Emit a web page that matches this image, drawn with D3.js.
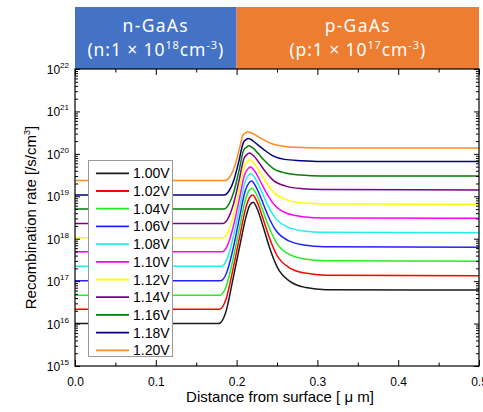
<!DOCTYPE html>
<html>
<head>
<meta charset="utf-8">
<script src="https://cdn.jsdelivr.net/npm/d3@7"></script>
<style>
body { margin: 0; background: #fff; }
svg { display: block; font-family: "Liberation Sans", Arial, sans-serif; }
</style>
</head>
<body>
<svg id="chart" width="483" height="412"></svg>
<script>
// bias voltage of every curve (legend order)
var voltages = ["1.00V", "1.02V", "1.04V", "1.06V", "1.08V", "1.10V", "1.12V", "1.14V", "1.16V", "1.18V", "1.20V"];
var lineColors = ["#1a1a1a", "#ff0000", "#22ee22", "#2222ff", "#22eeee", "#ff00ff", "#ffff00", "#800080", "#008000", "#000080", "#ff8a20"];

// [distance from surface (um), log10 of recombination rate (/s/cm3)]
var r100 = [[0,16.00],[0.1780,16.00],[0.1865,16.26],[0.1950,17.00],[0.2036,17.80],[0.2121,18.55],[0.2163,18.79],[0.2206,18.86],[0.2256,18.70],[0.2326,18.30],[0.2406,17.80],[0.2506,17.32],[0.2656,17.00],[0.2856,16.85],[0.3106,16.80],[0.5,16.79]];
var r102 = [[0,16.34],[0.1788,16.34],[0.1870,16.58],[0.1952,17.25],[0.2035,18.02],[0.2117,18.75],[0.2158,18.96],[0.2199,19.03],[0.2249,18.89],[0.2319,18.52],[0.2399,18.06],[0.2499,17.61],[0.2649,17.32],[0.2849,17.19],[0.3099,17.14],[0.5,17.13]];
var r104 = [[0,16.67],[0.1795,16.67],[0.1874,16.89],[0.1954,17.50],[0.2033,18.23],[0.2113,18.94],[0.2152,19.13],[0.2192,19.19],[0.2242,19.06],[0.2312,18.73],[0.2392,18.31],[0.2492,17.91],[0.2642,17.64],[0.2842,17.52],[0.3092,17.48],[0.5,17.47]];
var r106 = [[0,17.01],[0.1803,17.01],[0.1879,17.21],[0.1956,17.76],[0.2032,18.46],[0.2109,19.14],[0.2147,19.30],[0.2185,19.36],[0.2235,19.24],[0.2305,18.94],[0.2385,18.56],[0.2485,18.20],[0.2635,17.96],[0.2835,17.85],[0.3085,17.81],[0.5,17.80]];
var r108 = [[0,17.35],[0.1810,17.35],[0.1884,17.53],[0.1957,18.03],[0.2031,18.68],[0.2104,19.33],[0.2141,19.48],[0.2178,19.53],[0.2228,19.43],[0.2298,19.16],[0.2378,18.82],[0.2478,18.49],[0.2628,18.28],[0.2828,18.18],[0.3078,18.15],[0.5,18.14]];
var r110 = [[0,17.69],[0.1818,17.69],[0.1889,17.85],[0.1960,18.29],[0.2030,18.90],[0.2101,19.52],[0.2137,19.64],[0.2172,19.69],[0.2222,19.60],[0.2292,19.36],[0.2372,19.07],[0.2472,18.79],[0.2622,18.60],[0.2822,18.52],[0.3072,18.49],[0.5,18.48]];
var r112 = [[0,18.02],[0.1826,18.02],[0.1894,18.16],[0.1962,18.55],[0.2029,19.12],[0.2097,19.71],[0.2131,19.81],[0.2165,19.86],[0.2215,19.78],[0.2285,19.58],[0.2365,19.33],[0.2465,19.08],[0.2615,18.92],[0.2815,18.84],[0.3065,18.82],[0.5,18.81]];
var r114 = [[0,18.36],[0.1833,18.36],[0.1898,18.49],[0.1963,18.83],[0.2028,19.35],[0.2093,19.90],[0.2126,19.98],[0.2158,20.02],[0.2208,19.96],[0.2278,19.79],[0.2358,19.58],[0.2458,19.37],[0.2608,19.24],[0.2808,19.18],[0.3058,19.16],[0.5,19.15]];
var r116 = [[0,18.70],[0.1841,18.70],[0.1903,18.81],[0.1965,19.10],[0.2027,19.58],[0.2089,20.09],[0.2120,20.15],[0.2151,20.19],[0.2201,20.14],[0.2271,20.00],[0.2351,19.83],[0.2451,19.66],[0.2601,19.55],[0.2801,19.50],[0.3051,19.48],[0.5,19.48]];
var r118 = [[0,19.03],[0.1848,19.03],[0.1907,19.13],[0.1966,19.38],[0.2026,19.81],[0.2085,20.27],[0.2114,20.33],[0.2144,20.36],[0.2194,20.32],[0.2264,20.21],[0.2344,20.09],[0.2444,19.96],[0.2594,19.87],[0.2794,19.84],[0.3044,19.82],[0.5,19.82]];
var r120 = [[0,19.37],[0.1856,19.37],[0.1912,19.45],[0.1968,19.66],[0.2025,20.04],[0.2081,20.45],[0.2109,20.49],[0.2137,20.52],[0.2187,20.49],[0.2257,20.42],[0.2337,20.33],[0.2437,20.24],[0.2587,20.18],[0.2787,20.15],[0.3037,20.14],[0.5,20.14]];
var series = [r100, r102, r104, r106, r108, r110, r112, r114, r116, r118, r120];

var xTickValues = [0, 0.1, 0.2, 0.3, 0.4, 0.5];
var xMinorValues = [0.05, 0.15, 0.25, 0.35, 0.45];
var yExponents = [15, 16, 17, 18, 19, 20, 21, 22];

// layer regions on top of the plot
var layerNames = ["n-GaAs", "p-GaAs"];
var layerCarrier = ["n", "p"];
var layerDoping = ["18", "17"];
var layerBounds = [[0, 0.2], [0.2, 0.5]];
var layerColors = ["#4472c4", "#ed7d31"];

var svg = d3.select("#chart");
var plotL = 75, plotR = 479, plotT = 69, plotB = 366;

var x = d3.scaleLinear().domain([0, 0.5]).range([plotL, plotR]);
var y = d3.scaleLog().domain([1e15, 1e22]).range([plotB, plotT]);

// minor ticks of log axis
var yMinor = [];
yExponents.slice(0, -1).forEach(function (e) {
    for (var m = 2; m <= 9; m++) yMinor.push(m * Math.pow(10, e));
});

// header boxes
var hdr = svg.append("g");
layerNames.forEach(function (name, i) {
    var x0 = x(layerBounds[i][0]), x1 = x(layerBounds[i][1]);
    hdr.append("rect")
        .attr("x", x0).attr("y", 7)
        .attr("width", x1 - x0).attr("height", plotT - 7)
        .attr("fill", layerColors[i]);
    var cx = (x0 + x1) / 2;
    hdr.append("text")
        .attr("x", cx).attr("y", 32)
        .attr("text-anchor", "middle")
        .style("font-family", "'Noto Sans', sans-serif")
        .style("font-size", "17.5px")
        .style("letter-spacing", "1.3px")
        .attr("fill", "#fff")
        .text(name);
    var t = hdr.append("text")
        .attr("x", cx).attr("y", 56)
        .attr("text-anchor", "middle")
        .style("font-family", "'Noto Sans', sans-serif")
        .style("font-size", "17.5px")
        .style("letter-spacing", "0.9px")
        .attr("fill", "#fff");
    t.append("tspan").text("(" + layerCarrier[i] + ":1 \u00d7 10");
    t.append("tspan").attr("dy", -7).style("font-size", "11px").text(layerDoping[i]);
    t.append("tspan").attr("dy", 7).text("cm");
    t.append("tspan").attr("dy", -7).style("font-size", "11px").text("-3");
    t.append("tspan").attr("dy", 7).text(")");
});

// curves
svg.append("clipPath").attr("id", "plot-clip")
  .append("rect")
    .attr("x", plotL).attr("y", plotT)
    .attr("width", plotR - plotL).attr("height", plotB - plotT);

var line = d3.line()
    .x(function (d) { return x(d[0]); })
    .y(function (d) { return y(Math.pow(10, d[1])); })
    .curve(d3.curveMonotoneX);

svg.append("g")
    .attr("clip-path", "url(#plot-clip)")
  .selectAll("path")
  .data(series)
  .enter()
  .append("path")
    .attr("d", line)
    .attr("fill", "none")
    .attr("stroke", function (d, i) { return lineColors[i]; })
    .attr("stroke-width", 1.5);

// axes, ticks pointing inward on all four sides
function styleAxis(g) {
    g.select(".domain").remove();
    g.selectAll("line").attr("stroke", "#000").attr("stroke-width", 1);
}

svg.append("g")
    .attr("transform", "translate(0," + plotB + ")")
    .call(d3.axisBottom(x).tickValues(xTickValues).tickSize(-6).tickPadding(11)
        .tickFormat(d3.format(".1f")))
    .call(styleAxis)
    .selectAll("text")
    .style("font-size", "12px")
    .style("font-family", "'Liberation Sans', Arial, sans-serif")
    .attr("fill", "#000");

svg.append("g")
    .attr("transform", "translate(0," + plotB + ")")
    .call(d3.axisBottom(x).tickValues(xMinorValues).tickSize(-3.5).tickFormat(""))
    .call(styleAxis);

svg.append("g")
    .attr("transform", "translate(0," + plotT + ")")
    .call(d3.axisTop(x).tickValues(xTickValues).tickSize(-6).tickFormat(""))
    .call(styleAxis);

svg.append("g")
    .attr("transform", "translate(0," + plotT + ")")
    .call(d3.axisTop(x).tickValues(xMinorValues).tickSize(-3.5).tickFormat(""))
    .call(styleAxis);

var yMajor = yExponents.map(function (e) { return Math.pow(10, e); });

svg.append("g")
    .attr("transform", "translate(" + plotL + ",0)")
    .call(d3.axisLeft(y).tickValues(yMajor).tickSize(-5).tickFormat(""))
    .call(styleAxis);
svg.append("g")
    .attr("transform", "translate(" + plotL + ",0)")
    .call(d3.axisLeft(y).tickValues(yMinor).tickSize(-3).tickFormat(""))
    .call(styleAxis);
svg.append("g")
    .attr("transform", "translate(" + plotR + ",0)")
    .call(d3.axisRight(y).tickValues(yMajor).tickSize(-5).tickFormat(""))
    .call(styleAxis);
svg.append("g")
    .attr("transform", "translate(" + plotR + ",0)")
    .call(d3.axisRight(y).tickValues(yMinor).tickSize(-3).tickFormat(""))
    .call(styleAxis);

// y tick labels as 10^n
var yl = svg.append("g").selectAll("text")
    .data(yExponents)
    .enter()
    .append("text")
    .attr("x", 69)
    .attr("y", function (e) { return y(Math.pow(10, e)) + 5; })
    .attr("text-anchor", "end")
    .style("font-size", "12px");
yl.append("tspan").text("10");
yl.append("tspan").attr("dy", -6).style("font-size", "8px").text(function (e) { return e; });

// frame
svg.append("rect")
    .attr("x", plotL).attr("y", plotT)
    .attr("width", plotR - plotL).attr("height", plotB - plotT)
    .attr("fill", "none")
    .attr("stroke", "#000")
    .attr("stroke-width", 1.2);

// axis titles
svg.append("text")
    .attr("x", (plotL + plotR) / 2 + 3)
    .attr("y", 402)
    .attr("text-anchor", "middle")
    .style("font-size", "15px")
    .text("Distance from surface [ \u03bc m]");

var yt = svg.append("text")
    .attr("transform", "translate(36," + ((plotT + plotB) / 2) + ") rotate(-90)")
    .attr("text-anchor", "middle")
    .style("font-size", "15px");
yt.append("tspan").text("Recombination rate  [/s/cm");
yt.append("tspan").attr("dy", -6).style("font-size", "9px").text("3");
yt.append("tspan").attr("dy", 6).text("]");

// legend
var legend = svg.append("g");
legend.append("rect")
    .attr("x", 88.5).attr("y", 160.5)
    .attr("width", 84).attr("height", 196)
    .attr("fill", "#fff")
    .attr("stroke", "#999")
    .attr("stroke-width", 1);

var items = legend.selectAll("g.item")
    .data(voltages)
    .enter()
    .append("g")
    .attr("class", "item")
    .attr("transform", function (d, i) { return "translate(0," + (173.3 + i * 17.7) + ")"; });

items.append("line")
    .attr("x1", 96).attr("x2", 129)
    .attr("stroke", function (d, i) { return lineColors[i]; })
    .attr("stroke-width", 1.8);

items.append("text")
    .attr("x", 133)
    .attr("y", 5)
    .style("font-size", "14px")
    .text(function (d) { return d; });
</script>
</body>
</html>
